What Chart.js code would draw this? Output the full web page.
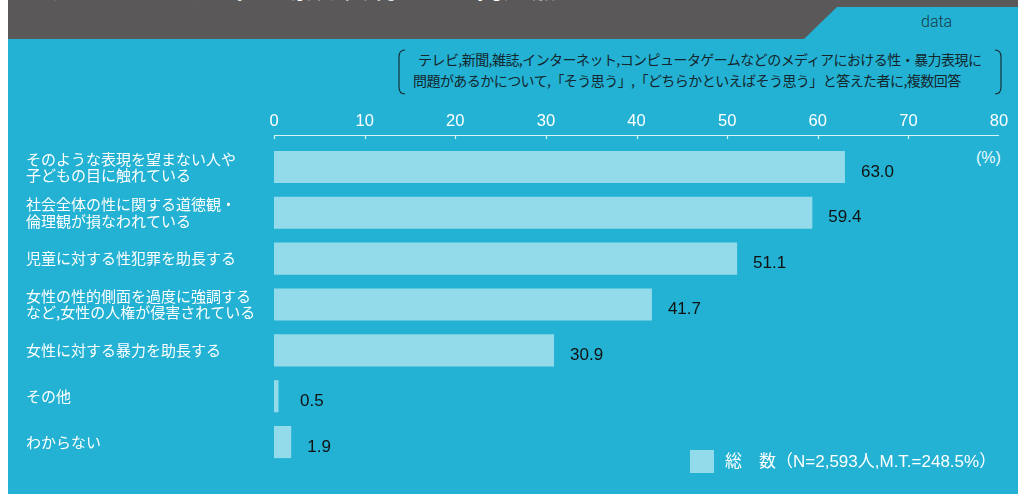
<!DOCTYPE html>
<html><head><meta charset="utf-8">
<script src="https://cdn.jsdelivr.net/npm/chart.js@4.4.1/dist/chart.umd.min.js"></script>
<style>
html,body{margin:0;padding:0;background:#fff;width:1026px;height:494px;overflow:hidden;}
#bg{position:absolute;left:8px;top:0;width:1010px;height:494px;background:#23b2d4;}
#band{position:absolute;left:8px;top:0;width:1010px;height:39px;background:#5a5859;overflow:hidden;}
#tab{position:absolute;left:0;top:0;width:1026px;height:39px;background:#23b2d4;clip-path:polygon(837px 7px,1018px 7px,1018px 39px,804px 39px);}
#title{position:absolute;left:12px;top:-32px;font:bold 26px "Noto Sans CJK JP";color:#fff;white-space:nowrap;letter-spacing:1px;}
#data{position:absolute;left:921px;top:12px;font:300 16px Roboto,"Open Sans";color:#163a4a;}
#sub{position:absolute;left:413px;top:49px;text-align:left;font:400 14px/21px "Noto Sans CJK JP";color:#14252c;letter-spacing:-0.55px;white-space:nowrap;}
#sub span{padding-left:5px;}
#pct{position:absolute;left:976px;top:149px;font:16px "Liberation Sans","Noto Sans CJK JP";color:#eafaff;}
canvas{position:absolute;left:0;top:0;}
</style></head>
<body>
<div id="bg"></div>
<div id="band"><div id="title">メディアにおける性・暴力表現による問題点</div></div>
<div id="tab"></div>
<div id="data">data</div>
<svg style="position:absolute;left:0;top:0" width="1026" height="120">
<path d="M405 50 Q399 50 399 57 L399 87 Q399 94 405 94" fill="none" stroke="#14252c" stroke-width="1.1"/>
<path d="M995 50 Q1001 50 1001 57 L1001 87 Q1001 94 995 94" fill="none" stroke="#14252c" stroke-width="1.1"/>
</svg>
<div id="sub"><span>テレビ,新聞,雑誌,インターネット,コンピュータゲームなどのメディアにおける性・暴力表現に</span><br>問題があるかについて,「そう思う」,「どちらかといえばそう思う」と答えた者に,複数回答</div>
<div id="pct">(%)</div>
<canvas id="c" width="1026" height="494"></canvas>
<script>
const categories = [
  ["そのような表現を望まない人や","子どもの目に触れている"],
  ["社会全体の性に関する道徳観・","倫理観が損なわれている"],
  ["児童に対する性犯罪を助長する"],
  ["女性の性的側面を過度に強調する","など,女性の人権が侵害されている"],
  ["女性に対する暴力を助長する"],
  ["その他"],
  ["わからない"]
];
const totalValues = [63.0, 59.4, 51.1, 41.7, 30.9, 0.5, 1.9];
const seriesName = "総\u3000数（N=2,593人,M.T.=248.5%）";
const xTicks = [0,10,20,30,40,50,60,70,80];

const BAR = '#93dbea';

const overlay = {
  id:'overlay',
  afterDatasetsDraw(chart){
    const ctx = chart.ctx, xs = chart.scales.x, ca = chart.chartArea;
    ctx.save();
    const ay = ca.top - 9;
    ctx.strokeStyle = '#d6f3f8'; ctx.lineWidth = 1.2;
    ctx.beginPath(); ctx.moveTo(xs.getPixelForValue(0), ay+0.5); ctx.lineTo(xs.getPixelForValue(80), ay+0.5); ctx.stroke();
    xTicks.slice(0,-1).forEach(v=>{
      const px = Math.round(xs.getPixelForValue(v))+0.5;
      ctx.beginPath(); ctx.moveTo(px, ay); ctx.lineTo(px, ay+4); ctx.stroke();
    });
    const meta = chart.getDatasetMeta(0);
    ctx.font = '17px "Liberation Sans", Arial';
    ctx.fillStyle = '#111'; ctx.textAlign='left'; ctx.textBaseline='middle';
    const minX = xs.getPixelForValue(0) + 26;
    meta.data.forEach((el,i)=>{
      const x = Math.max(el.x + 16, minX);
      ctx.fillText(totalValues[i].toFixed(1), x, el.y + 5);
    });
    ctx.fillStyle = BAR; ctx.fillRect(690, 450, 24, 23);
    ctx.fillStyle = '#ffffff'; ctx.font = '17px "Liberation Sans", "Noto Sans CJK JP"';
    ctx.fillText(chart.data.datasets[0].label, 725, 462);
    ctx.restore();
  }
};

new Chart(document.getElementById('c'), {
  type:'bar',
  data:{ labels: categories, datasets:[{ label: seriesName, data: totalValues, backgroundColor: BAR, borderWidth:0, barPercentage:0.7, categoryPercentage:1 }]},
  options:{
    indexAxis:'y', responsive:false, animation:false,
    layout:{ padding:{ left:26, right:27, top:0, bottom:29 } },
    plugins:{ legend:{display:false}, tooltip:{enabled:false} },
    scales:{
      x:{ position:'top', min:0, max:80,
          afterBuildTicks(s){ s.ticks = xTicks.map(v=>({value:v})); },
          afterFit(s){ s.height = 144; },
          grid:{ display:false, drawTicks:false }, border:{display:false},
          ticks:{ color:'#ffffff', padding:13, font:{ family:'"Liberation Sans", Arial', size:16.5 }, maxRotation:0, autoSkip:false } },
      y:{ afterFit(s){ s.width = 248; },
          grid:{ display:false, drawTicks:false }, border:{display:false},
          ticks:{ color:'#ffffff', crossAlign:'far', padding:0, font:{ family:'"Noto Sans CJK JP"', size:15, lineHeight:1.08 }, autoSkip:false } }
    }
  },
  plugins:[overlay]
});
</script>
</body></html>
